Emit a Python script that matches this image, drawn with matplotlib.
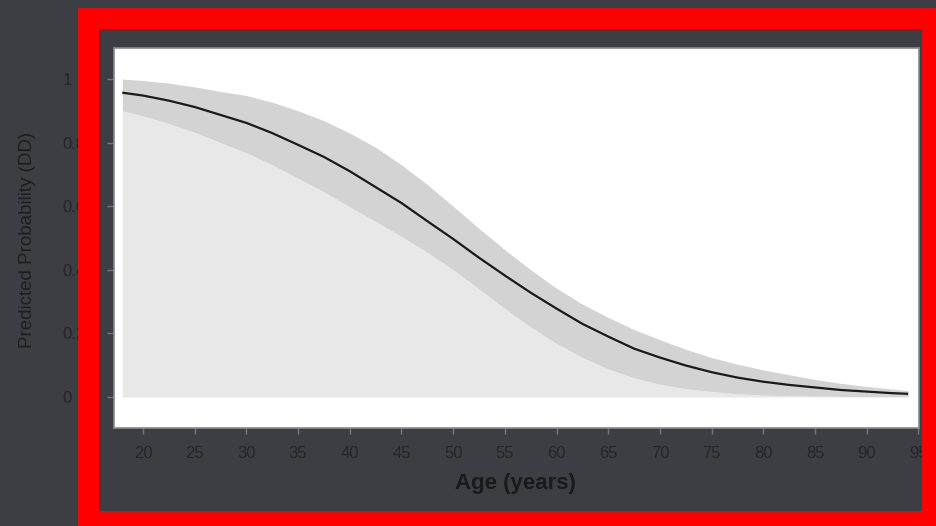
import numpy as np
import matplotlib.pyplot as plt
from matplotlib.patches import Rectangle

# predicted probability of DD by age, with confidence band
age = [18, 20, 22.5, 25, 27.5, 30, 32.5, 35, 37.5, 40, 42.5, 45, 47.5, 50, 52.5,
       55, 57.5, 60, 62.5, 65, 67.5, 70, 72.5, 75, 77.5, 80, 82.5, 85, 87.5, 90,
       92.5, 94]
prob = [0.957, 0.948, 0.932, 0.912, 0.887, 0.862, 0.830, 0.793, 0.755, 0.710,
        0.660, 0.610, 0.553, 0.497, 0.438, 0.382, 0.328, 0.278, 0.230, 0.190,
        0.152, 0.124, 0.099, 0.078, 0.061, 0.048, 0.038, 0.030, 0.022, 0.017,
        0.012, 0.010]
upper = [1.000, 0.995, 0.987, 0.975, 0.961, 0.948, 0.927, 0.900, 0.869, 0.830,
         0.785, 0.730, 0.668, 0.600, 0.530, 0.463, 0.400, 0.342, 0.292, 0.250,
         0.212, 0.180, 0.150, 0.124, 0.103, 0.085, 0.070, 0.055, 0.043, 0.033,
         0.025, 0.020]
lower = [0.900, 0.884, 0.860, 0.832, 0.800, 0.768, 0.730, 0.688, 0.645, 0.598,
         0.552, 0.505, 0.455, 0.400, 0.340, 0.278, 0.220, 0.168, 0.124, 0.088,
         0.060, 0.040, 0.026, 0.017, 0.010, 0.006, 0.004, 0.003, 0.002, 0.001,
         0.001, 0.001]

xticks = list(range(20, 100, 5))
yticks = [0, 0.2, 0.4, 0.6, 0.8, 1]
ylabels = ['0', '0.2', '0.4', '0.6', '0.8', '1']

W, H = 936, 526
bg = '#3d3e43'

plt.rcParams['font.family'] = ['Liberation Sans', 'DejaVu Sans']

fig = plt.figure(figsize=(W / 100, H / 100), dpi=100, facecolor=bg)

def fx(px):
    return px / W

def fy(py):
    return 1 - py / H

# white plot panel
ax = fig.add_axes([fx(114), fy(428), fx(919) - fx(114), fy(48) - fy(428)])
ax.set_facecolor('white')

a = np.array(age)
ax.fill_between(a, 0, lower, color='#e8e8e8', lw=0)
ax.fill_between(a, lower, upper, color='#d3d3d3', lw=0)
ax.plot(a, prob, color='#1a1a1a', lw=1.6, solid_capstyle='butt')

ax.set_xlim(17.2, 95.05)
ax.set_ylim(-0.0975, 1.0975)

ax.set_xticks(xticks)
ax.set_xticklabels([str(t) for t in xticks])
ax.set_yticks(yticks)
ax.set_yticklabels(ylabels)
ax.tick_params(axis='x', direction='out', length=4, width=1, color='#777777',
               labelsize=12, labelcolor='#262626', pad=9)
ax.tick_params(axis='y', direction='out', length=5, width=1, color='#777777',
               labelsize=12, labelcolor='#262626', pad=32)
for lbl in ax.get_yticklabels():
    lbl.set_horizontalalignment('left')
for s in ax.spines.values():
    s.set_color('#8a8a8a')
    s.set_linewidth(1.2)

fig.text(fx(515), fy(484), 'Age (years)', ha='center', va='center',
         fontsize=16, fontweight='bold', color='#1a1a1a')
fig.text(fx(28), fy(240), 'Predicted Probability (DD)', ha='center',
         va='center', rotation=90, fontsize=13.5, color='#1e1e1e')

# red frame on top
lw_px = 21
frame = Rectangle((fx(87.5), fy(520.5)), fx(931.5) - fx(87.5),
                  fy(18) - fy(520.5), transform=fig.transFigure,
                  fill=False, edgecolor='#ff0000', lw=lw_px * 0.72,
                  joinstyle='miter', zorder=10)
fig.patches.append(frame)

fig.savefig('out.png', dpi=100, facecolor=bg)
